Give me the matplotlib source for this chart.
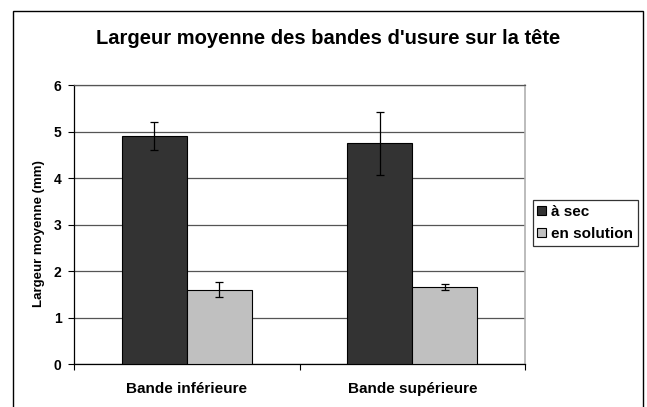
import matplotlib
matplotlib.use("Agg")
import matplotlib.pyplot as plt
from matplotlib.patches import Rectangle
import numpy as np

plt.rcParams["font.family"] = ["Liberation Sans", "DejaVu Sans"]

categories = ["Bande inférieure", "Bande supérieure"]
series = ["à sec", "en solution"]
sec_vals = [4.90, 4.75]
sec_err = [0.30, 0.68]
sol_vals = [1.60, 1.67]
sol_err = [0.16, 0.065]
colors = ["#333333", "#c0c0c0"]

fig = plt.figure(figsize=(6.47, 4.07), dpi=100)
fig.patch.set_facecolor("white")
# outer chart-area border (bottom edge is cropped off in the original)
fig.patches.append(Rectangle((12.5 / 647, -0.05), (642.7 - 12.5) / 647, 1.05 - 10.5 / 407,
                             transform=fig.transFigure, fill=False, ec="black", lw=1.0))

ax = fig.add_axes([74 / 647, (407 - 364.3) / 407, 451 / 647, (364.3 - 85) / 407])
x = np.arange(len(categories))
w = 0.288
ax.bar(x - w / 2, sec_vals, w, color=colors[0], edgecolor="black", lw=0.8, label=series[0], zorder=3)
ax.bar(x + w / 2, sol_vals, w, color=colors[1], edgecolor="black", lw=0.8, label=series[1], zorder=3)
ax.errorbar(x - w / 2, sec_vals, yerr=sec_err, fmt="none", ecolor="black", elinewidth=0.9,
            capsize=3, capthick=0.9, zorder=4)
ax.errorbar(x + w / 2, sol_vals, yerr=sol_err, fmt="none", ecolor="black", elinewidth=0.9,
            capsize=3, capthick=0.9, zorder=4)

ax.set_xlim(-0.5, 1.5)
ax.set_ylim(0, 6)
ax.set_yticks(range(7))
ax.set_yticklabels([str(i) for i in range(7)], fontsize=10, fontweight="bold")
ax.yaxis.grid(True, color="#555555", lw=0.9, zorder=0)
ax.set_axisbelow(True)
ax.tick_params(axis="y", length=4, width=0.8, pad=5)

ax.set_xticks([-0.5, 0.5, 1.5])
ax.set_xticklabels([])
ax.set_xticks(x, minor=True)
ax.set_xticklabels(categories, minor=True, fontsize=11, fontweight="bold")
ax.tick_params(axis="x", which="major", length=4, width=0.8)
ax.tick_params(axis="x", which="minor", length=0, pad=13)

for s in ("left", "bottom"):
    ax.spines[s].set_color("black")
    ax.spines[s].set_linewidth(0.9)
ax.spines["right"].set_color("#b0b0b0")
ax.spines["right"].set_linewidth(1.2)
ax.spines["top"].set_color("#555555")
ax.spines["top"].set_linewidth(0.9)

ax.set_ylabel("Largeur moyenne (mm)", fontsize=9.5, fontweight="bold")
ax.yaxis.set_label_coords((45 - 74) / 451, (364.3 - 234) / 279.3)

fig.text(328 / 647, 1 - 39 / 407, "Largeur moyenne des bandes d'usure sur la tête",
         ha="center", va="center", fontsize=14.5, fontweight="bold")

leg = fig.legend(loc="upper left", bbox_to_anchor=(532.7 / 647, 1 - 200 / 407),
                 prop={"weight": "bold", "size": 11}, frameon=True, fancybox=False,
                 edgecolor="black", handlelength=0.55, handleheight=0.55, handletextpad=0.35,
                 borderpad=0.3, labelspacing=0.55, borderaxespad=0)
leg.get_frame().set_linewidth(0.9)

fig.savefig("out.png", dpi=100, facecolor="white")
